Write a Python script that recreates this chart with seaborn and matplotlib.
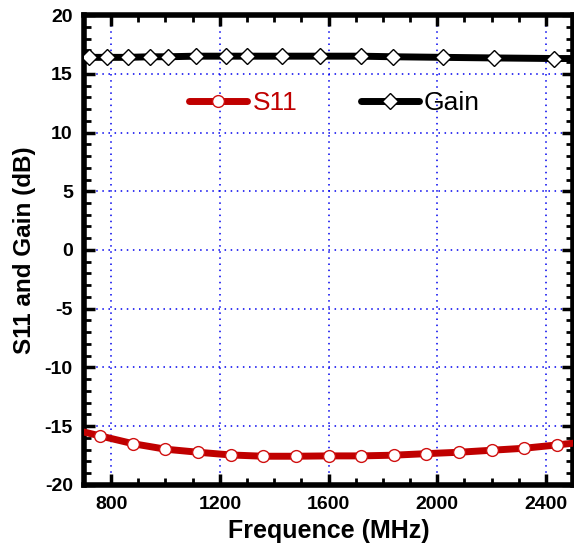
import matplotlib
matplotlib.use("Agg")
import matplotlib.pyplot as plt
import seaborn as sns
import pandas as pd
from matplotlib.ticker import MultipleLocator

# S11 curve (markers every ~120 MHz, line runs edge to edge)
s11_freq = [700, 760, 880, 1000, 1120, 1240, 1360, 1480, 1600, 1720,
            1840, 1960, 2080, 2200, 2320, 2440, 2500]
s11_db = [-15.5, -15.83, -16.49, -16.96, -17.22, -17.45, -17.56, -17.56, -17.53,
          -17.53, -17.47, -17.34, -17.22, -17.05, -16.88, -16.6, -16.45]

# Gain curve
gain_freq = [700, 720, 785, 862, 943, 1009, 1111, 1221, 1301, 1430, 1568,
             1718, 1839, 2022, 2209, 2429, 2500]
gain_db = [16.4, 16.4, 16.4, 16.4, 16.45, 16.45, 16.5, 16.5, 16.5, 16.5, 16.5,
           16.5, 16.45, 16.4, 16.35, 16.3, 16.3]

sns.set_style("ticks")
plt.rcParams['font.family'] = ['Liberation Sans', 'DejaVu Sans']
plt.rcParams['axes.unicode_minus'] = False
plt.rcParams['text.color'] = 'black'
plt.rcParams['axes.labelcolor'] = 'black'
plt.rcParams['xtick.color'] = 'black'
plt.rcParams['ytick.color'] = 'black'

df_s11 = pd.DataFrame({'freq': s11_freq, 'val': s11_db})
df_gain = pd.DataFrame({'freq': gain_freq, 'val': gain_db})

fig = plt.figure(figsize=(5.74, 5.58), dpi=100)
ax = fig.add_axes([0.1463, 0.131, 0.852, 0.842])

sns.lineplot(data=df_s11, x='freq', y='val', ax=ax, color='#c00000', lw=5,
             marker='o', markersize=8.5, markerfacecolor='white',
             markeredgecolor='#d01010', markeredgewidth=1.0,
             markevery=slice(1, -1), label='S11', zorder=3)
sns.lineplot(data=df_gain, x='freq', y='val', ax=ax, color='black', lw=5,
             marker='D', markersize=8.5, markerfacecolor='white',
             markeredgecolor='black', markeredgewidth=1.0,
             markevery=slice(1, -1), label='Gain', zorder=3)

ax.set_xlim(700, 2500)
ax.set_ylim(-20, 20)
ax.xaxis.set_major_locator(MultipleLocator(400))
ax.xaxis.set_minor_locator(MultipleLocator(100))
ax.yaxis.set_major_locator(MultipleLocator(5))
ax.yaxis.set_minor_locator(MultipleLocator(1))

ax.grid(True, which='major', color='#0000ee', linestyle=(0, (1, 3)), lw=1.1)

for s in ax.spines.values():
    s.set_linewidth(4)
    s.set_color('black')
ax.tick_params(which='major', direction='in', length=8, width=2.5,
               top=True, right=True, labelsize=14, pad=8)
ax.tick_params(which='minor', direction='in', length=5, width=2,
               top=True, right=True)
for lab in ax.get_xticklabels() + ax.get_yticklabels():
    lab.set_fontweight('bold')

ax.set_xlabel('Frequence (MHz)', fontsize=18, fontweight='bold', labelpad=4)
ax.set_ylabel('S11 and Gain (dB)', fontsize=17.5, fontweight='bold', labelpad=6)

leg = ax.legend(loc='center', bbox_to_anchor=(0.583, 0.815),
                bbox_transform=fig.transFigure, ncol=2, frameon=False,
                fontsize=19, handlelength=2.2, columnspacing=2.4,
                handletextpad=0.2)
for t, c in zip(leg.get_texts(), ['#c00000', 'black']):
    t.set_color(c)

fig.savefig('out.png', dpi=100)
